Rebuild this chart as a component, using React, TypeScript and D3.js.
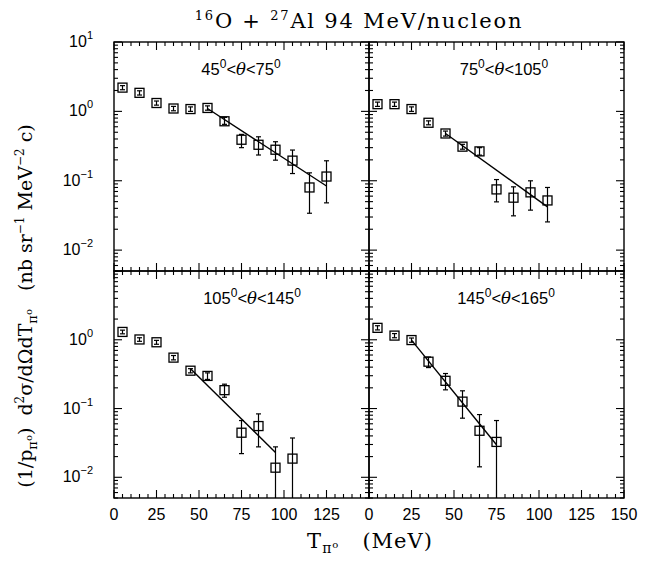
import React, { useRef, useEffect } from 'react';
import * as d3 from 'd3';

const W = 655;
const H = 563;

// pion kinetic energy bin centres (MeV)
const binsTL = [5, 15, 25, 35, 45, 55, 65, 75, 85, 95, 105, 115, 125];
const binsTR = [5, 15, 25, 35, 45, 55, 65, 75, 85, 95, 105];
const binsBL = [5, 15, 25, 35, 45, 55, 65, 75, 85, 95, 105];
const binsBR = [5, 15, 25, 35, 45, 55, 65, 75];

// 45 < theta < 75
const valTL = [2.2, 1.85, 1.32, 1.1, 1.08, 1.12, 0.72, 0.39, 0.33, 0.28, 0.195, 0.08, 0.115];
const loTL = [2.05, 1.72, 1.23, 1.02, 1.0, 1.04, 0.65, 0.3, 0.235, 0.198, 0.127, 0.034, 0.048];
const hiTL = [2.35, 1.98, 1.41, 1.18, 1.16, 1.2, 0.82, 0.466, 0.43, 0.365, 0.277, 0.13, 0.194];
const fitTL: [number, number][] = [[55, 1.1], [125, 0.084]];

// 75 < theta < 105
const valTR = [1.27, 1.27, 1.08, 0.685, 0.48, 0.31, 0.265, 0.075, 0.057, 0.068, 0.052];
const loTR = [1.18, 1.18, 1.0, 0.64, 0.44, 0.285, 0.234, 0.0496, 0.0312, 0.0377, 0.0255];
const hiTR = [1.36, 1.36, 1.16, 0.73, 0.52, 0.335, 0.3, 0.104, 0.0817, 0.0998, 0.08];
const fitTR: [number, number][] = [[45, 0.48], [105, 0.042]];

// 105 < theta < 145
const valBL = [1.3, 1.01, 0.92, 0.55, 0.355, 0.298, 0.185, 0.0445, 0.0556, 0.0138, 0.0187];
const loBL = [1.22, 0.95, 0.86, 0.51, 0.33, 0.265, 0.146, 0.0221, 0.0277, 0.001, 0.001];
const hiBL = [1.38, 1.07, 0.98, 0.59, 0.38, 0.33, 0.226, 0.0669, 0.0836, 0.0277, 0.0373];
const fitBL: [number, number][] = [[45, 0.38], [95, 0.0229]];

// 145 < theta < 165
const valBR = [1.49, 1.15, 0.99, 0.48, 0.253, 0.126, 0.0475, 0.0327];
const loBR = [1.39, 1.07, 0.92, 0.394, 0.187, 0.0724, 0.0142, 0.001];
const hiBR = [1.6, 1.23, 1.06, 0.561, 0.323, 0.181, 0.0817, 0.0669];
const fitBR: [number, number][] = [[25, 0.99], [75, 0.0298]];

const xTicksLeft = [0, 25, 50, 75, 100, 125];
const xTicksRight = [0, 25, 50, 75, 100, 125, 150];
const yDecades = [1, 0, -1, -2];

const SANS = 'Liberation Sans, Arial, sans-serif';
const SERIF = 'DejaVu Serif, serif';

type Seg = [string, number, number]; // text, baseline offset, font size

// superscripts / subscripts as tspans
const addRich = (text: any, segs: Seg[]) => {
  let cur = 0;
  segs.forEach(([t, off, sz]) => {
    text.append('tspan').attr('dy', off - cur).attr('font-size', sz).text(t);
    cur = off;
  });
};

const App = () => {
  const svgRef = useRef<SVGSVGElement>(null);

  useEffect(() => {
    if (!svgRef.current) return;
    const svg = d3.select(svgRef.current);
    svg.selectAll('*').remove();

    const xL = 114, xM = 369, xR = 624;
    const yT = 42, yM = 271, yB = 498;

    const panels = [
      { x0: xL, x1: xM, y0: yT, y1: yM, bins: binsTL, val: valTL, lo: loTL, hi: hiTL, fit: fitTL,
        label: ['45', '75'], lx: 241, xLabels: null, yLabels: true, top: true },
      { x0: xM, x1: xR, y0: yT, y1: yM, bins: binsTR, val: valTR, lo: loTR, hi: hiTR, fit: fitTR,
        label: ['75', '105'], lx: 504, xLabels: null, yLabels: false, top: true },
      { x0: xL, x1: xM, y0: yM, y1: yB, bins: binsBL, val: valBL, lo: loBL, hi: hiBL, fit: fitBL,
        label: ['105', '145'], lx: 252, xLabels: xTicksLeft, yLabels: true, top: false },
      { x0: xM, x1: xR, y0: yM, y1: yB, bins: binsBR, val: valBR, lo: loBR, hi: hiBR, fit: fitBR,
        label: ['145', '165'], lx: 506, xLabels: xTicksRight, yLabels: false, top: false },
    ];

    panels.forEach((p, pi) => {
      const x = d3.scaleLinear().domain([0, 150]).range([p.x0, p.x1]);
      const y = d3.scaleLog().domain([0.005, 10]).range([p.y1, p.y0]);
      const g = svg.append('g');

      const clipId = `clip${pi}`;
      svg.append('clipPath').attr('id', clipId)
        .append('rect').attr('x', p.x0).attr('y', p.y0)
        .attr('width', p.x1 - p.x0).attr('height', p.y1 - p.y0);

      g.append('rect')
        .attr('x', p.x0).attr('y', p.y0)
        .attr('width', p.x1 - p.x0).attr('height', p.y1 - p.y0)
        .attr('fill', 'none').attr('stroke', '#000').attr('stroke-width', 1.4);

      // x ticks, inward on bottom and top
      d3.range(0, 151, 5).forEach(v => {
        const len = v % 25 === 0 ? 8 : 4;
        const xv = x(v);
        g.append('line').attr('x1', xv).attr('x2', xv).attr('y1', p.y1).attr('y2', p.y1 - len)
          .attr('stroke', '#000').attr('stroke-width', 1.1);
        g.append('line').attr('x1', xv).attr('x2', xv).attr('y1', p.y0).attr('y2', p.y0 + len)
          .attr('stroke', '#000').attr('stroke-width', 1.1);
      });

      // log y ticks, inward on left and right
      [-3, -2, -1, 0, 1].forEach(e => {
        d3.range(1, 10).forEach(m => {
          const v = m * Math.pow(10, e);
          if (v < 0.005 - 1e-9 || v > 10 + 1e-9) return;
          const len = m === 1 ? 8 : 4;
          const yv = y(v);
          g.append('line').attr('x1', p.x0).attr('x2', p.x0 + len).attr('y1', yv).attr('y2', yv)
            .attr('stroke', '#000').attr('stroke-width', 1.1);
          g.append('line').attr('x1', p.x1).attr('x2', p.x1 - len).attr('y1', yv).attr('y2', yv)
            .attr('stroke', '#000').attr('stroke-width', 1.1);
        });
      });

      if (p.yLabels) {
        yDecades.forEach(e => {
          if (e === 1 && !p.top) return;
          const t = g.append('text')
            .attr('x', 93).attr('y', y(Math.pow(10, e)) + 5)
            .attr('text-anchor', 'end')
            .attr('font-family', SANS).attr('font-size', 16).attr('fill', '#000');
          addRich(t, [['10', 0, 16], [e < 0 ? `\u2212${-e}` : `${e}`, -8, 11]]);
        });
      }

      if (p.xLabels) {
        p.xLabels.forEach(v => {
          g.append('text')
            .attr('x', x(v)).attr('y', 520)
            .attr('text-anchor', 'middle')
            .attr('font-family', SANS).attr('font-size', 16).attr('fill', '#000')
            .text(v);
        });
      }

      // panel angle label
      const lab = g.append('text')
        .attr('x', p.lx).attr('y', p.y0 + 33)
        .attr('text-anchor', 'middle')
        .attr('font-family', SANS).attr('font-size', 16.5).attr('fill', '#000')
        .style('white-space', 'pre');
      lab.append('tspan').text(p.label[0]);
      lab.append('tspan').attr('dy', -7).attr('font-size', 12).text('0');
      lab.append('tspan').attr('dy', 7).text('<');
      lab.append('tspan').attr('font-style', 'italic').attr('font-family', SERIF).text('\u03b8');
      lab.append('tspan').text('<' + p.label[1]);
      lab.append('tspan').attr('dy', -7).attr('font-size', 12).text('0');

      const data = p.bins.map((b, i) => ({ e: b, v: p.val[i], lo: p.lo[i], hi: p.hi[i] }));
      const clipped = g.append('g').attr('clip-path', `url(#${clipId})`);

      // fit line
      const line = d3.line<[number, number]>().x(d => x(d[0])).y(d => y(d[1]));
      clipped.append('path').attr('d', line(p.fit))
        .attr('fill', 'none').attr('stroke', '#000').attr('stroke-width', 1.4);

      // error bars
      const yc = (v: number) => y(Math.max(v, 0.005 * 0.9));
      data.forEach(d => {
        const xv = x(d.e);
        clipped.append('line').attr('x1', xv).attr('x2', xv)
          .attr('y1', yc(d.lo)).attr('y2', y(d.hi))
          .attr('stroke', '#000').attr('stroke-width', 1.2);
        [d.lo, d.hi].forEach(v => {
          if (v < 0.005) return;
          clipped.append('line').attr('x1', xv - 2.5).attr('x2', xv + 2.5)
            .attr('y1', y(v)).attr('y2', y(v))
            .attr('stroke', '#000').attr('stroke-width', 1.2);
        });
      });

      // open squares
      clipped.selectAll('rect.pt').data(data).enter().append('rect')
        .attr('class', 'pt')
        .attr('x', d => x(d.e) - 4.5).attr('y', d => y(d.v) - 4.5)
        .attr('width', 9).attr('height', 9)
        .attr('fill', 'none').attr('stroke', '#000').attr('stroke-width', 1.3);
    });

    // title
    const title = svg.append('text')
      .attr('x', 359).attr('y', 28)
      .attr('text-anchor', 'middle')
      .attr('font-family', SERIF).attr('font-size', 21).attr('fill', '#000')
      .attr('letter-spacing', 1.8)
      .style('white-space', 'pre');
    addRich(title, [['16', -8, 13], ['O + ', 0, 21], ['27', -8, 13], ['Al 94 MeV/nucleon', 0, 21]]);

    // x axis title
    const xt = svg.append('text')
      .attr('x', 370).attr('y', 548)
      .attr('text-anchor', 'middle')
      .attr('font-family', SERIF).attr('font-size', 21).attr('fill', '#000')
      .attr('letter-spacing', 1)
      .style('white-space', 'pre');
    addRich(xt, [['T', 0, 21], ['\u03c0', 5, 14], ['o', 0, 10], ['   (MeV)', 0, 21]]);

    // y axis title
    const yt = svg.append('text')
      .attr('transform', 'translate(32,306) rotate(-90)')
      .attr('text-anchor', 'middle')
      .attr('font-family', SERIF).attr('font-size', 19).attr('fill', '#000')
      .style('white-space', 'pre');
    addRich(yt, [
      ['(1/p', 0, 19], ['\u03c0', 5, 13], ['o', 0, 10], [')  d', 0, 19], ['2', -8, 12],
      ['\u03c3/d\u03a9dT', 0, 19], ['\u03c0', 5, 13], ['o', 0, 10],
      ['   (nb sr', 0, 19], ['\u22121', -8, 12], [' MeV', 0, 19], ['\u22122', -8, 12], [' c)', 0, 19],
    ]);
  }, []);

  return (
    <svg
      ref={svgRef}
      width={W}
      height={H}
      style={{ position: 'absolute', left: 0, top: 0, background: '#fff' }}
    />
  );
};

export default App;
